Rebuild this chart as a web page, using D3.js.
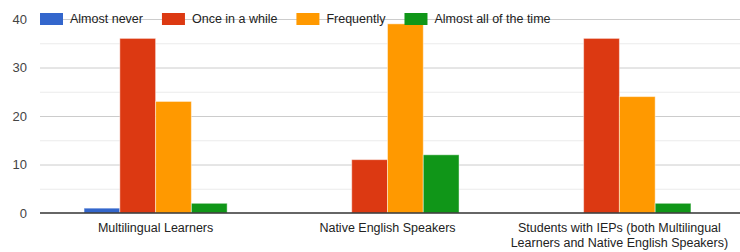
<!DOCTYPE html>
<html>
<head>
<meta charset="utf-8">
<script src="https://cdn.jsdelivr.net/npm/d3@7"></script>
<style>
  body { margin: 0; background: #fff; }
  text { font-family: "Liberation Sans", Arial, sans-serif; }
</style>
</head>
<body>
<svg id="chart" width="740" height="252"></svg>
<script>
const categories = [
  "Multilingual Learners",
  "Native English Speakers",
  "Students with IEPs (both Multilingual Learners and Native English Speakers)"
];
const series = ["Almost never", "Once in a while", "Frequently", "Almost all of the time"];
const colors = ["#3366cc", "#dc3912", "#ff9900", "#109618"];
const almostNever = [1, 0, 0];
const onceInAWhile = [36, 11, 36];
const frequently = [23, 39, 24];
const almostAll = [2, 12, 2];
const majorTicks = [0, 10, 20, 30, 40];
const minorTicks = [5, 15, 25, 35];

const values = [almostNever, onceInAWhile, frequently, almostAll];

const svg = d3.select("#chart");
const left = 40, right = 740;

const x = d3.scaleBand()
  .domain(categories)
  .range([left, 735])
  .paddingInner(0.383)
  .paddingOuter(0.19);

const xs = d3.scaleBand()
  .domain(series)
  .range([0, x.bandwidth()]);

const y = d3.scaleLinear()
  .domain([0, 40])
  .range([213, 19]);

/** Gridlines
------------------------------------------------------------*/
svg.append("g")
  .selectAll("line")
  .data(minorTicks)
  .enter().append("line")
  .attr("x1", left).attr("x2", right)
  .attr("y1", d => y(d) + 0.5).attr("y2", d => y(d) + 0.5)
  .attr("stroke", "#ebebeb");

svg.append("g")
  .selectAll("line")
  .data(majorTicks.filter(d => d !== 0))
  .enter().append("line")
  .attr("x1", left).attr("x2", right)
  .attr("y1", d => y(d) + 0.5).attr("y2", d => y(d) + 0.5)
  .attr("stroke", "#cccccc");

// y tick labels
svg.append("g")
  .selectAll("text")
  .data(majorTicks)
  .enter().append("text")
  .attr("x", 27)
  .attr("y", d => y(d))
  .attr("dy", "0.35em")
  .attr("text-anchor", "end")
  .attr("font-size", 13)
  .attr("fill", "#444")
  .text(d => d);

/** Bars
------------------------------------------------------------*/
const groups = svg.append("g")
  .selectAll("g")
  .data(categories)
  .enter().append("g")
  .attr("transform", d => "translate(" + x(d) + ",0)");

groups.selectAll("rect")
  .data((c, i) => series.map((s, j) => ({ s: s, v: values[j][i], j: j })))
  .enter().append("rect")
  .attr("x", d => xs(d.s))
  .attr("width", xs.bandwidth())
  .attr("y", d => y(d.v))
  .attr("height", d => y(0) - y(d.v))
  .attr("fill", d => colors[d.j])
  .attr("stroke", "#fff")
  .attr("stroke-opacity", 0.45)
  .attr("stroke-width", 1);

// baseline
svg.append("line")
  .attr("x1", left).attr("x2", right)
  .attr("y1", y(0)).attr("y2", y(0))
  .attr("stroke", "#333")
  .attr("stroke-width", 1.5);

/** Category labels (wrapped)
------------------------------------------------------------*/
svg.append("g")
  .selectAll("text")
  .data(categories)
  .enter().append("text")
  .attr("text-anchor", "middle")
  .attr("font-size", 12.5)
  .attr("fill", "#222")
  .each(function (d) {
    const text = d3.select(this);
    const cx = x(d) + x.bandwidth() / 2;
    const words = d.split(" ");
    const maxWidth = 232;
    let line = [];
    let lines = [];
    let tspan = text.append("tspan");
    words.forEach(w => {
      line.push(w);
      tspan.text(line.join(" "));
      if (tspan.node().getComputedTextLength() > maxWidth && line.length > 1) {
        line.pop();
        lines.push(line.join(" "));
        line = [w];
      }
    });
    lines.push(line.join(" "));
    tspan.remove();
    lines.forEach((l, i) => {
      text.append("tspan")
        .attr("x", cx)
        .attr("y", 232 + i * 15)
        .text(l);
    });
  });

/** Legend
------------------------------------------------------------*/
const legend = svg.append("g");
let lx = 40;
series.forEach((s, i) => {
  legend.append("rect")
    .attr("x", lx).attr("y", 13)
    .attr("width", 23).attr("height", 12)
    .attr("fill", colors[i]);
  const t = legend.append("text")
    .attr("x", lx + 30)
    .attr("y", 19)
    .attr("dy", "0.35em")
    .attr("font-size", 12.5)
    .attr("fill", "#222")
    .text(s);
  lx += 30 + t.node().getComputedTextLength() + 19;
});
</script>
</body>
</html>
